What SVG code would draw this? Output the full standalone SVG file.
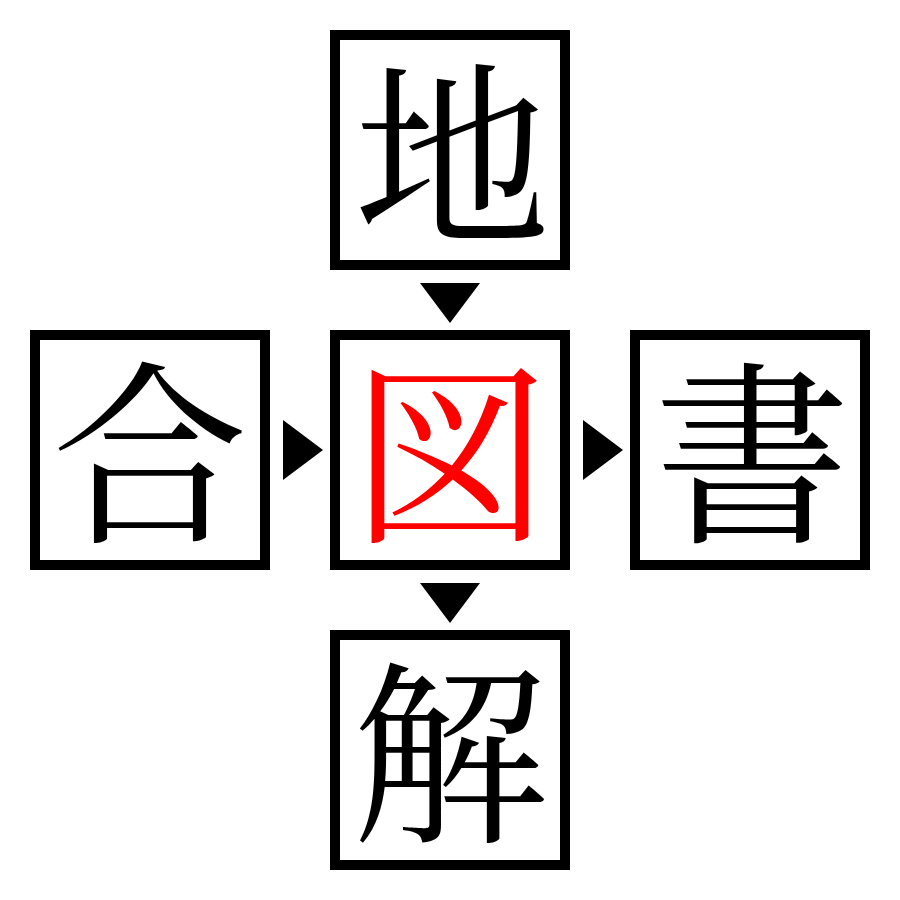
<svg xmlns="http://www.w3.org/2000/svg" width="900" height="900" viewBox="0 0 900 900">
<style>
.box{fill:#fff;stroke:#000;stroke-width:10}
.ch{font-family:"Noto Serif CJK JP","Noto Sans CJK JP",serif;font-size:196px;text-anchor:middle;dominant-baseline:central;fill:#000}
.red{fill:#ff0000}
.arr{fill:#000}
</style>
<rect width="900" height="900" fill="#fff"/>
<g id="top"><rect class="box" x="335" y="35" width="230" height="230"/><text class="ch" x="452" y="143">地</text></g>
<g id="left"><rect class="box" x="35" y="335" width="230" height="230"/><text class="ch" x="150" y="442">合</text></g>
<g id="center"><rect class="box" x="335" y="335" width="230" height="230"/><text class="ch red" x="450" y="442">図</text></g>
<g id="right"><rect class="box" x="635" y="335" width="230" height="230"/><text class="ch" x="752" y="442">書</text></g>
<g id="bottom"><rect class="box" x="335" y="635" width="230" height="230"/><text class="ch" x="450" y="742">解</text></g>
<g id="connectors">
<polygon class="arr" points="420,283 480,283 450,323"/>
<polygon class="arr" points="283,420 323,450 283,480"/>
<polygon class="arr" points="583,420 623,450 583,480"/>
<polygon class="arr" points="420,583 480,583 450,623"/>
</g>
</svg>
